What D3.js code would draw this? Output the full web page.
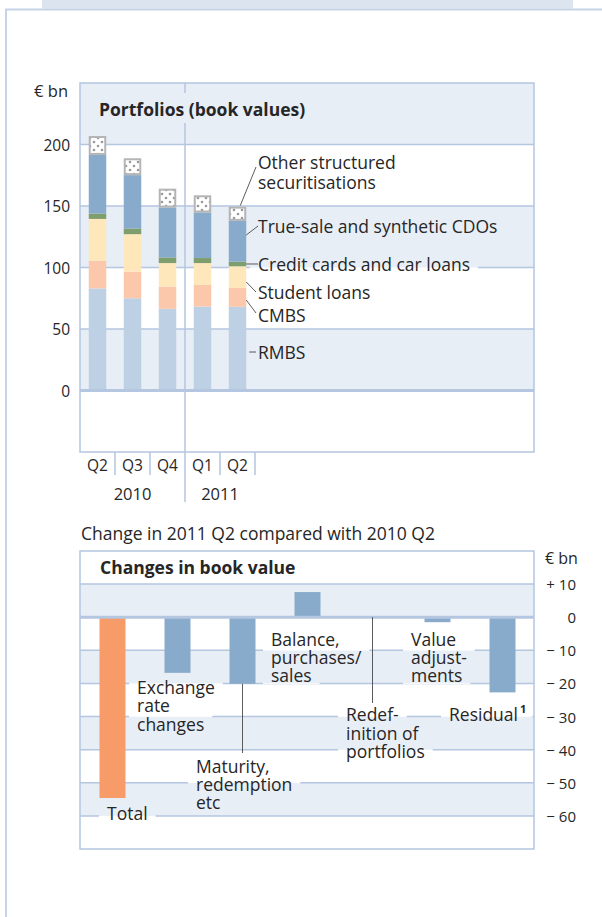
<!DOCTYPE html>
<html>
<head>
<meta charset="utf-8">
<script src="https://cdn.jsdelivr.net/npm/d3@7"></script>
<style>
  body { margin: 0; background: #fff; }
  svg { display: block; font-family: "Open Sans", sans-serif; }
</style>
</head>
<body>
<div id="chart"></div>
<script>
// portfolios (book values), € bn
const quarters = ["Q2", "Q3", "Q4", "Q1", "Q2"];
const yearLabels = ["2010", "2011"];
const yearStart = [0, 3];
const yearEnd = [2, 4];
const seriesKeys = ["rmbs", "cmbs", "student", "cards", "cdo", "other"];
const rmbs = [83, 75, 66.4, 68.3, 68];
const cmbs = [22.5, 21.6, 18.1, 17.5, 15.4];
const studentLoans = [34, 30.5, 19.1, 17.8, 17.6];
const creditCards = [4.3, 4.6, 4.6, 4.1, 3.7];
const cdos = [47.7, 43.4, 40.5, 37, 33.2];
const otherSec = [15.4, 13.7, 15.4, 14, 11.6];
const portfolioTicks = [0, 50, 100, 150, 200];

// change in 2011 Q2 compared with 2010 Q2, € bn
const changeCategories = ["Total", "Exchange rate changes", "Maturity, redemption etc",
  "Balance, purchases/sales", "Redefinition of portfolios", "Value adjustments", "Residual"];
const changeValues = [-54.6, -16.8, -20.1, 7.6, 0, -1.5, -22.7];
const changeTicks = [10, 0, -10, -20, -30, -40, -50, -60];
const changeTickLabels = ["+ 10", "0", "\u2212 10", "\u2212 20", "\u2212 30", "\u2212 40", "\u2212 50", "\u2212 60"];

const BAND = "#e8eef6";
const GRID = "#b4c6e0";
const TEXT = "#262626";
const LABEL_SIZE = 17.5;
const colors = {
  rmbs: "#bdd0e4", cmbs: "#fbc8ac", student: "#fde7bb",
  cards: "#7f9e6e", cdo: "#88aacb", other: "url(#dots)"
};

var svg = d3.select("#chart").append("svg").attr("width", 602).attr("height", 917);
var defs = svg.append("defs");
var pat = defs.append("pattern").attr("id", "dots")
  .attr("patternUnits", "userSpaceOnUse").attr("width", 8).attr("height", 8);
pat.append("rect").attr("width", 8).attr("height", 8).attr("fill", "#fff");
pat.append("circle").attr("cx", 2).attr("cy", 2).attr("r", 1.3).attr("fill", "#999");
pat.append("circle").attr("cx", 6).attr("cy", 6).attr("r", 1.3).attr("fill", "#999");

var mask = defs.append("mask").attr("id", "gridMask").attr("maskUnits", "userSpaceOnUse")
  .attr("x", 0).attr("y", 0).attr("width", 602).attr("height", 917);
mask.append("rect").attr("width", 602).attr("height", 917).attr("fill", "#fff");

// page decoration
svg.append("rect").attr("x", 42).attr("y", 0).attr("width", 531).attr("height", 8.5).attr("fill", "#dce4f0");
svg.append("line").attr("x1", 5).attr("x2", 602).attr("y1", 9.5).attr("y2", 9.5)
  .attr("stroke", "#c6d4e8").attr("stroke-width", 2);
svg.append("line").attr("x1", 6).attr("x2", 6).attr("y1", 9).attr("y2", 917)
  .attr("stroke", "#c6d4e8").attr("stroke-width", 2);

function bandFill(v, step) {
  return Math.floor(v / step) % 2 === 0 ? BAND : "#fff";
}

// text lines with a knock-out area on the grid lines
function addLabel(g, lines, x, y0, lh) {
  lines.forEach(function (ln, i) {
    var cy = y0 + i * lh;
    var t = g.append("text").attr("x", x).attr("y", cy)
      .attr("dominant-baseline", "central").attr("fill", TEXT)
      .style("font-size", LABEL_SIZE + "px");
    if (typeof ln === "string") {
      t.text(ln);
    } else {
      t.text(ln[0]);
      t.append("tspan").attr("dx", 2).attr("dy", -6).style("font-size", "11px")
        .style("font-weight", "bold").text(ln[1]);
    }
    var w = t.node().getComputedTextLength();
    mask.append("rect").attr("x", x - 8).attr("y", cy - lh / 2)
      .attr("width", w + 16).attr("height", lh).attr("fill", "#000");
  });
}

function leader(g, x1, y1, x2, y2) {
  g.append("line").attr("x1", x1).attr("y1", y1).attr("x2", x2).attr("y2", y2)
    .attr("stroke", "#333").attr("stroke-width", 0.8);
}

// ---------- top chart ----------
function createPortfolioChart() {
  var x = d3.scaleBand().domain(d3.range(quarters.length)).range([80, 255])
    .paddingInner(0.5).paddingOuter(0.25);
  var y = d3.scaleLinear().domain([-50, 250]).range([452, 83]);
  var step = x.step();
  var edge = function (i) { return x(i) - (step - x.bandwidth()) / 2; };

  var g = svg.append("g");
  d3.range(-50, 250, 50).forEach(function (v) {
    g.append("rect").attr("x", 80).attr("width", 454)
      .attr("y", y(v + 50)).attr("height", y(v) - y(v + 50))
      .attr("fill", bandFill(v, 50));
  });

  var grid = g.append("g").attr("mask", "url(#gridMask)");
  portfolioTicks.filter(function (d) { return d !== 0; }).forEach(function (d) {
    grid.append("line").attr("x1", 80).attr("x2", 534).attr("y1", y(d)).attr("y2", y(d))
      .attr("stroke", GRID).attr("stroke-width", 1.5);
  });
  // year divider
  grid.append("line").attr("x1", edge(3)).attr("x2", edge(3)).attr("y1", 83).attr("y2", 502)
    .attr("stroke", GRID).attr("stroke-width", 1.5);

  var rows = quarters.map(function (q, i) {
    return { rmbs: rmbs[i], cmbs: cmbs[i], student: studentLoans[i],
      cards: creditCards[i], cdo: cdos[i], other: otherSec[i] };
  });
  var stacked = d3.stack().keys(seriesKeys)(rows);

  stacked.forEach(function (layer) {
    var isOther = layer.key === "other";
    g.append("g").selectAll("rect").data(layer).enter().append("rect")
      .attr("x", function (d, i) { return x(i) + (isOther ? 1 : 0); })
      .attr("width", x.bandwidth() - (isOther ? 2 : 0))
      .attr("y", function (d) { return y(d[1]) + (isOther ? 1 : 0); })
      .attr("height", function (d) { return y(d[0]) - y(d[1]) - (isOther ? 2 : 0); })
      .attr("fill", colors[layer.key])
      .attr("stroke", isOther ? "#b5b5b5" : "none")
      .attr("stroke-width", 2);
  });

  g.append("line").attr("x1", 80).attr("x2", 534).attr("y1", y(0)).attr("y2", y(0))
    .attr("stroke", GRID).attr("stroke-width", 3);
  g.append("rect").attr("x", 80).attr("y", 83).attr("width", 454).attr("height", 369)
    .attr("fill", "none").attr("stroke", GRID).attr("stroke-width", 1.5);

  // title
  var title = g.append("text").attr("x", 99).attr("y", 109).attr("dominant-baseline", "central")
    .attr("fill", TEXT).style("font-size", "17.5px").style("font-weight", "bold")
    .text("Portfolios (book values)");
  var tw = title.node().getComputedTextLength();
  mask.append("rect").attr("x", 92).attr("y", 93).attr("width", tw + 14).attr("height", 30).attr("fill", "#000");

  // y axis
  g.selectAll(".ytick").data(portfolioTicks).enter().append("text")
    .attr("x", 70).attr("y", function (d) { return y(d); })
    .attr("text-anchor", "end").attr("dominant-baseline", "central")
    .attr("fill", TEXT).style("font-size", "15.5px").text(function (d) { return d; });
  g.append("text").attr("x", 68).attr("y", 90).attr("text-anchor", "end")
    .attr("dominant-baseline", "central").attr("fill", TEXT).style("font-size", "16.5px").text("€ bn");

  // x axis
  quarters.forEach(function (q, i) {
    if (i > 0 && i !== 3) {
      g.append("line").attr("x1", edge(i)).attr("x2", edge(i)).attr("y1", 452).attr("y2", 475)
        .attr("stroke", GRID).attr("stroke-width", 1.5);
    }
    g.append("text").attr("x", x(i) + x.bandwidth() / 2).attr("y", 465)
      .attr("text-anchor", "middle").attr("dominant-baseline", "central")
      .attr("fill", TEXT).style("font-size", "15.5px").text(q);
  });
  g.append("line").attr("x1", edge(4) + step).attr("x2", edge(4) + step).attr("y1", 452).attr("y2", 475)
    .attr("stroke", GRID).attr("stroke-width", 1.5);
  yearLabels.forEach(function (yl, k) {
    var cx = (edge(yearStart[k]) + edge(yearEnd[k]) + step) / 2;
    g.append("text").attr("x", cx).attr("y", 493).attr("text-anchor", "middle")
      .attr("dominant-baseline", "central").attr("fill", TEXT).style("font-size", "16.5px").text(yl);
  });

  // series labels
  var last = stacked.map(function (l) { return l[4]; });
  var xr = x(4) + x.bandwidth();
  addLabel(g, ["Other structured", "securitisations"], 258, 162, 20);
  addLabel(g, ["True-sale and synthetic CDOs"], 258, 226, 20);
  addLabel(g, ["Credit cards and car loans"], 258, 264, 18);
  addLabel(g, ["Student loans"], 258, 292, 20);
  addLabel(g, ["CMBS"], 258, 315, 20);
  addLabel(g, ["RMBS"], 258, 352, 20);
  leader(g, xr - 6, y(last[5][1]) - 1, 256, 167);
  leader(g, xr, 235, 258, 226);
  leader(g, xr, y((last[3][0] + last[3][1]) / 2), 258, 264);
  leader(g, xr, 282, 256, 292);
  leader(g, xr, 300, 256, 313);
  leader(g, xr + 3, 352, 256, 352);
}

// ---------- bottom chart ----------
function createChangeChart() {
  var x = d3.scaleBand().domain(changeCategories).range([80, 535])
    .paddingInner(0.6).paddingOuter(0.3);
  var y = d3.scaleLinear().domain([-70, 20]).range([849, 551]);

  var g = svg.append("g");
  g.append("text").attr("x", 81).attr("y", 533).attr("dominant-baseline", "central")
    .attr("fill", TEXT).style("font-size", "17.5px").text("Change in 2011 Q2 compared with 2010 Q2");

  d3.range(-70, 20, 10).forEach(function (v) {
    g.append("rect").attr("x", 80).attr("width", 454)
      .attr("y", y(v + 10)).attr("height", y(v) - y(v + 10))
      .attr("fill", bandFill(v, 10));
  });
  var grid = g.append("g").attr("mask", "url(#gridMask)");
  changeTicks.filter(function (d) { return d !== 0; }).forEach(function (d) {
    grid.append("line").attr("x1", 80).attr("x2", 534).attr("y1", y(d)).attr("y2", y(d))
      .attr("stroke", GRID).attr("stroke-width", 1.5);
  });

  g.selectAll(".bar").data(changeValues).enter().append("rect")
    .attr("x", function (d, i) { return x(changeCategories[i]); })
    .attr("width", x.bandwidth())
    .attr("y", function (d) { return y(Math.max(0, d)); })
    .attr("height", function (d) { return Math.abs(y(d) - y(0)); })
    .attr("fill", function (d, i) { return i === 0 ? "#f79b69" : "#89abcb"; });

  g.append("line").attr("x1", 80).attr("x2", 534).attr("y1", y(0)).attr("y2", y(0))
    .attr("stroke", GRID).attr("stroke-width", 3);
  g.append("rect").attr("x", 80).attr("y", 551).attr("width", 454).attr("height", 298)
    .attr("fill", "none").attr("stroke", GRID).attr("stroke-width", 1.5);

  g.append("text").attr("x", 100).attr("y", 567).attr("dominant-baseline", "central")
    .attr("fill", TEXT).style("font-size", "17.5px").style("font-weight", "bold")
    .text("Changes in book value");

  // right axis
  changeTicks.forEach(function (d, i) {
    g.append("text").attr("x", 576).attr("y", y(d)).attr("text-anchor", "end")
      .attr("dominant-baseline", "central").attr("fill", TEXT).style("font-size", "15px")
      .text(changeTickLabels[i]);
  });
  g.append("text").attr("x", 545).attr("y", 558).attr("dominant-baseline", "central")
    .attr("fill", TEXT).style("font-size", "16px").text("€ bn");

  // labels
  var cx = function (i) { return x(changeCategories[i]) + x.bandwidth() / 2; };
  addLabel(g, ["Total"], 107, 813, 18);
  addLabel(g, ["Exchange", "rate", "changes"], 137, 687, 18.3);
  addLabel(g, ["Maturity,", "redemption", "etc"], 196, 766, 18);
  addLabel(g, ["Balance,", "purchases/", "sales"], 271, 639, 18);
  addLabel(g, ["Redef-", "inition of", "portfolios"], 346, 714, 18.5);
  addLabel(g, ["Value", "adjust-", "ments"], 411, 639, 18);
  addLabel(g, [["Residual", "1"]], 449, 714, 18);
  leader(g, cx(2), y(changeValues[2]), cx(2), 753);
  leader(g, cx(4), y(0), cx(4), 703);
}

createPortfolioChart();
createChangeChart();
</script>
</body>
</html>
